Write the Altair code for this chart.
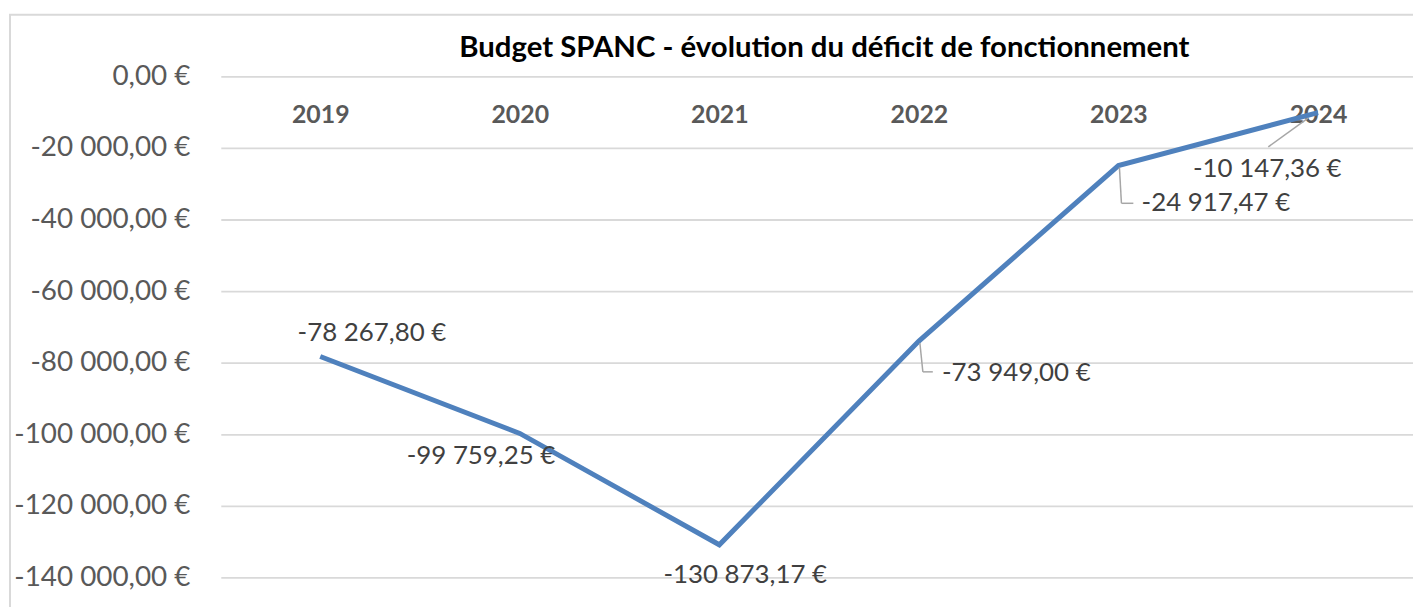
import altair as alt
import pandas as pd

# ---- data -------------------------------------------------------------
years = [2019, 2020, 2021, 2022, 2023, 2024]
deficit = [-78267.80, -99759.25, -130873.17, -73949.00, -24917.47, -10147.36]
y_ticks = [0, -20000, -40000, -60000, -80000, -100000, -120000, -140000]
title_text = "Budget SPANC - évolution du déficit de fonctionnement"

df = pd.DataFrame({"year": years, "value": deficit})

# ---- style ------------------------------------------------------------
FONT = "Lato"
LINE_COLOR = "#4F81BD"
GRID_COLOR = "#D9D9D9"
AXIS_TEXT = "#595959"
LABEL_TEXT = "#404040"
LEADER = "#A6A6A6"

# x domain padded by half a category on each side (Excel category spacing)
X_DOMAIN = [2018.5017, 2024.4761]

# label offsets (pixels) relative to each point, per year
label_offsets = {
    2019: (52, -24),
    2020: (-39, 23),
    2021: (26, 30),
    2022: (98, 32),
    2023: (98, 38),
    2024: (-51, 57),
}
# leader lines: (xOffset, yOffset, x2Offset, y2Offset)
leaders = {
    2022: [(1, 2, 4, 31), (4, 31, 14, 31)],
    2023: [(1, 2, 3, 38), (3, 38, 15, 38)],
    2024: [(-10, 5.5, -50, 34.5)],
}


def euro(f):
    return (f"({f} < 0 ? '-' : '') + replace(replace(format(abs({f}), ',.2f'), ',', ' '), '.', ',') + ' €'")


x_enc = alt.X(
    "year:Q",
    scale=alt.Scale(domain=X_DOMAIN, nice=False, zero=False),
    axis=alt.Axis(
        values=years, format="d",
        orient="top", offset=-38, title=None, domain=False, ticks=False, tickSize=0,
        labelPadding=0, labelBaseline="middle", labelAngle=0, labelFlush=False,
        labelOverlap=False,
        labelFont=FONT, labelFontSize=25, labelFontWeight="bold", labelColor=AXIS_TEXT,
        grid=False,
    ),
)
y_enc = alt.Y(
    "value:Q",
    scale=alt.Scale(domain=[-140000, 0], nice=False, zero=False),
    axis=alt.Axis(
        values=y_ticks, labelExpr=euro("datum.value"), title=None,
        domain=False, ticks=False, tickSize=0, labelPadding=31,
        labelFont=FONT, labelFontSize=28, labelColor=AXIS_TEXT,
        grid=True, gridColor=GRID_COLOR, gridWidth=1.8,
    ),
)

base = alt.Chart(df)
one = pd.DataFrame({"title": [title_text]})

border = alt.Chart(one).mark_rect(
    fillOpacity=0, stroke=GRID_COLOR, strokeWidth=2
).encode(
    x=alt.value(-212), y=alt.value(-62), x2=alt.value(1400), y2=alt.value(800)
)

title = alt.Chart(one).mark_text(
    font=FONT, fontSize=29.5, fontWeight="bold", color="#000000",
    align="center", baseline="alphabetic",
).encode(x=alt.value(607), y=alt.value(-19), text="title:N")

line = base.mark_line(color=LINE_COLOR, strokeWidth=5, strokeJoin="miter").encode(
    x=x_enc, y=y_enc
)

layers = [border, title, line]

for yr, segs in leaders.items():
    for (xo, yo, x2o, y2o) in segs:
        layers.append(
            base.transform_filter(alt.datum.year == yr)
            .mark_rule(color=LEADER, strokeWidth=1.5,
                       xOffset=xo, yOffset=yo, x2Offset=x2o, y2Offset=y2o)
            .encode(x=x_enc, y=y_enc, x2=alt.X2("year"), y2=alt.Y2("value"))
        )

for yr, (dx, dy) in label_offsets.items():
    layers.append(
        base.transform_filter(alt.datum.year == yr)
        .transform_calculate(label=euro("datum.value"))
        .mark_text(font=FONT, fontSize=26, color=LABEL_TEXT, dx=dx, dy=dy,
                   align="center", baseline="middle")
        .encode(x=x_enc, y=y_enc, text="label:N")
    )

chart = alt.layer(*layers).properties(
    width=1199,
    height=504,
    padding={"left": 214, "top": 67, "right": 0, "bottom": 28},
    autosize=alt.AutoSizeParams(type="none"),
    background="white",
).configure_view(strokeWidth=0)

chart.save("out.html", embed_options={"renderer": "svg", "actions": False})
